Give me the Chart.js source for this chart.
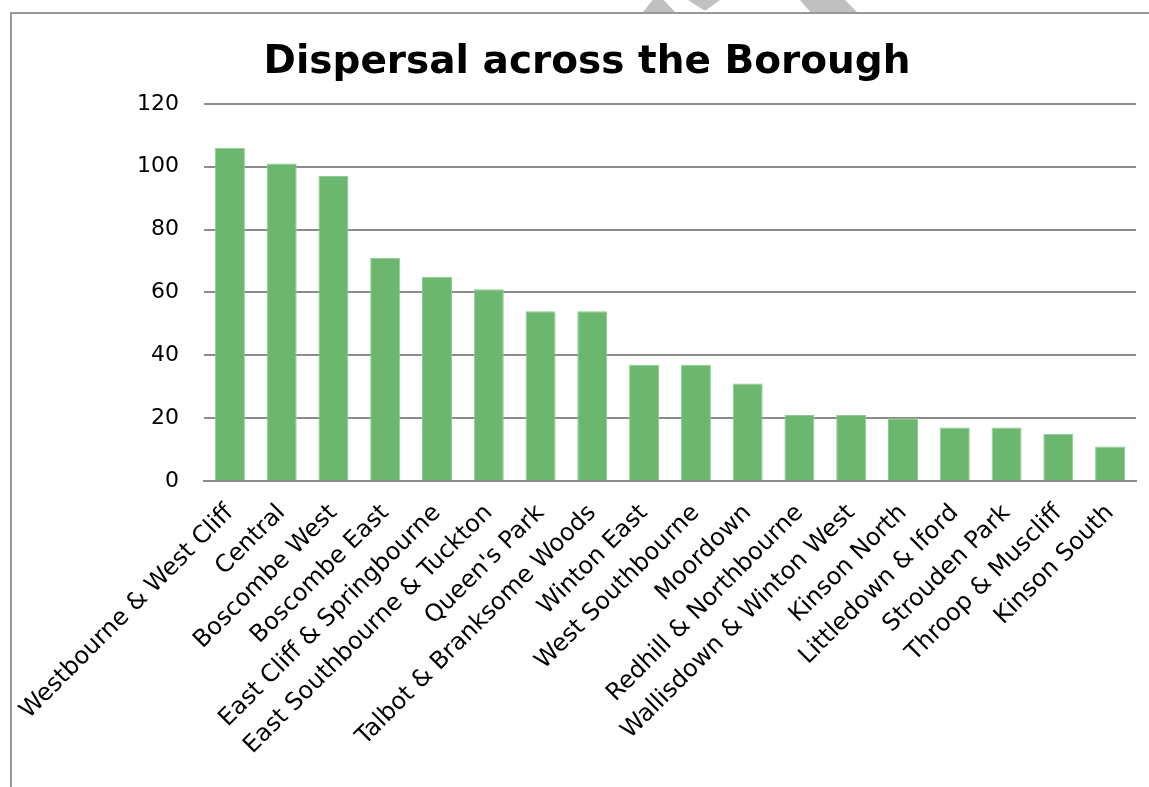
<!DOCTYPE html>
<html>
<head>
<meta charset="utf-8">
<script src="https://cdn.jsdelivr.net/npm/chart.js@4"></script>
<style>
  html, body { margin: 0; padding: 0; background: #fff; }
  #wrap { position: relative; width: 1149px; height: 787px; overflow: hidden; }
  #frame { position: absolute; left: 10px; top: 12px; width: 1200px; height: 800px;
           border-left: 2px solid #999; border-top: 2px solid #999; }
  .wm { position: absolute; top: 0; height: 12px; background: #c0c0c0; }
  canvas { position: absolute; left: 0; top: 0; }
</style>
</head>
<body>
<div id="wrap">
  <div class="wm" style="left:643px;width:32px;clip-path:polygon(30% 0,65% 0,100% 100%,0 100%);"></div>
  <div class="wm" style="left:688px;width:32px;clip-path:polygon(0 0,100% 0,56% 85%,50% 85%);"></div>
  <div class="wm" style="left:800px;width:57px;clip-path:polygon(0 0,79% 0,100% 100%,18% 100%);"></div>
  <div id="frame"></div>
  <canvas id="c" width="1149" height="787"></canvas>
</div>
<script>
const title = "Dispersal across the Borough";
const categories = [
  "Westbourne & West Cliff", "Central", "Boscombe West", "Boscombe East",
  "East Cliff & Springbourne", "East Southbourne & Tuckton", "Queen's Park",
  "Talbot & Branksome Woods", "Winton East", "West Southbourne", "Moordown",
  "Redhill & Northbourne", "Wallisdown & Winton West", "Kinson North",
  "Littledown & Iford", "Strouden Park", "Throop & Muscliff", "Kinson South"
];
const values = [106, 101, 97, 71, 65, 61, 54, 54, 37, 37, 31, 21, 21, 20, 17, 17, 15, 11];
const yMin = 0, yMax = 120, yStep = 20;

const FONT = "'DejaVu Sans', 'Noto Sans', sans-serif";

new Chart(document.getElementById('c'), {
  type: 'bar',
  data: {
    labels: categories,
    datasets: [{
      data: values,
      backgroundColor: '#6cb76f',
      borderColor: '#8fcb91',
      borderWidth: 1,
      barPercentage: 0.58,
      categoryPercentage: 1.0
    }]
  },
  options: {
    responsive: false,
    animation: false,
    devicePixelRatio: 1,
    layout: { padding: { left: 38, right: 13, top: 0, bottom: 0 } },
    plugins: {
      legend: { display: false },
      tooltip: { enabled: false },
      title: {
        display: true,
        text: title,
        color: '#000',
        font: { family: FONT, size: 39, weight: 'bold', lineHeight: 1.2 },
        padding: { top: 39, bottom: 18 }
      }
    },
    scales: {
      x: {
        grid: { display: false, drawTicks: false },
        border: { display: true, color: '#8c8c8c', width: 2 },
        ticks: {
          autoSkip: false, maxRotation: 45, minRotation: 45,
          color: '#000', padding: 18,
          font: { family: FONT, size: 24 }
        },
        afterFit: (s) => { s.height = 306; }
      },
      y: {
        min: yMin, max: yMax,
        grid: { color: '#8c8c8c', lineWidth: 2, drawTicks: false },
        border: { display: false },
        ticks: {
          stepSize: yStep, color: '#000', padding: 25,
          font: { family: FONT, size: 22 }
        },
        afterFit: (s) => { s.width = 166; }
      }
    }
  }
});
</script>
</body>
</html>
